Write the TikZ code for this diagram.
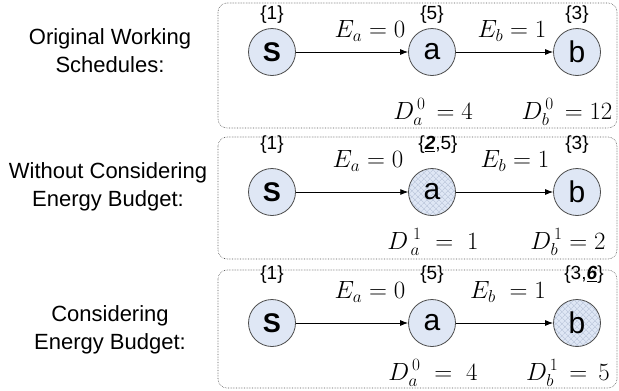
\documentclass[tikz,border=0pt]{standalone}
\usepackage{fontspec}
\setmainfont{Liberation Sans}
\usetikzlibrary{arrows.meta,positioning,patterns.meta}
\definecolor{TaskFill}{HTML}{DFE7F5}
\definecolor{TaskHatch}{HTML}{B4C0D6}
\definecolor{FrameGray}{HTML}{555555}

\begin{document}
\begin{tikzpicture}[x=1pt,y=-1pt, every node/.style={font=\fontsize{22}{28}\selectfont}, task/.style={circle,draw=black!70,line width=0.8pt,fill=TaskFill,minimum size=47pt,inner sep=0pt,font=\fontsize{30}{30}\selectfont}, hatched/.style={task,preaction={fill=TaskFill},preaction={pattern={Lines[angle=45,distance=4pt,line width=0.5pt]},pattern color=TaskHatch},pattern={Lines[angle=-45,distance=4pt,line width=0.5pt]},pattern color=TaskHatch}, source/.style={task,font=\fontsize{27}{30}\selectfont\bfseries}, setlbl/.style={font=\fontsize{19}{21}\selectfont,inner sep=1pt}, mathlbl/.style={font=\fontsize{25}{28}\selectfont,inner sep=1pt}, rowlbl/.style={align=center}, frame/.style={draw=FrameGray,densely dotted,line width=0.6pt,rounded corners=9pt}, link/.style={-{Latex[length=8pt,width=6pt]},line width=0.8pt}]
\useasboundingbox (0,0) rectangle (619,391);
% frames
\draw[frame] (218,3) rectangle (617,128);
\draw[frame] (218,137) rectangle (617,259);
\draw[frame] (218,270) rectangle (617,388);
% row labels
\node[rowlbl] (orig) at (110,51) {Original Working\\Schedules:};
\node[rowlbl] (woeb) at (108,187) {Without Considering\\Energy Budget:};
\node[rowlbl] (web) at (110,330) {Considering\\Energy Budget:};
% original schedules
\node[source] (s1) at (272,52) {S};
\node[task] (a1) at (432,52) {a};
\node[task] (b1) at (577,52) {b};
\node[setlbl] (s1set) at (272,15) {\{1\}};
\node[setlbl] (a1set) at (432,15) {\{5\}};
\node[setlbl] (b1set) at (577,15) {\{3\}};
\node[mathlbl] (ea1) at (370,31) {$E_a=0$};
\node[mathlbl] (eb1) at (512,31) {$E_b=1$};
\node[mathlbl] (da1) at (433,112) {$D_a^{\,0}\,=4$};
\node[mathlbl] (db1) at (567,112) {$D_b^{\,0}\,=12$};
\draw[link] (s1) -- (a1);
\draw[link] (a1) -- (b1);
% without energy budget
\node[source] (s2) at (272,192) {S};
\node[hatched] (a2) at (432,192) {a};
\node[task] (b2) at (577,192) {b};
\node[setlbl] (s2set) at (272,145) {\{1\}};
\node[setlbl] (a2set) at (438,145) {\{\underline{\textbf{\textit{2}}},5\}};
\node[setlbl] (b2set) at (577,145) {\{3\}};
\node[mathlbl] (ea2) at (368,161) {$E_a=0$};
\node[mathlbl] (eb2) at (515,161) {$E_b=1$};
\node[mathlbl] (da2) at (433,242) {$D_{\,a}^{\;1}\;=\;1$};
\node[mathlbl] (db2) at (568,242) {$D_b^{\,1}=2$};
\draw[link] (s2) -- (a2);
\draw[link] (a2) -- (b2);
% with energy budget
\node[source] (s3) at (272,323) {S};
\node[task] (a3) at (432,323) {a};
\node[hatched] (b3) at (577,323) {b};
\node[setlbl] (s3set) at (272,275) {\{1\}};
\node[setlbl] (a3set) at (432,275) {\{5\}};
\node[setlbl] (b3set) at (584,275) {\{3,\underline{\textbf{\textit{6}}}\}};
\node[mathlbl] (ea3) at (370,292) {$E_a=0$};
\node[mathlbl] (eb3) at (508,292) {$E_b\;=1$};
\node[mathlbl] (da3) at (433,373) {$D_a^{\,0}\;=\;4$};
\node[mathlbl] (db3) at (568,373) {$D_b^{\,1}\,=\,5$};
\draw[link] (s3) -- (a3);
\draw[link] (a3) -- (b3);
\end{tikzpicture}
\end{document}
